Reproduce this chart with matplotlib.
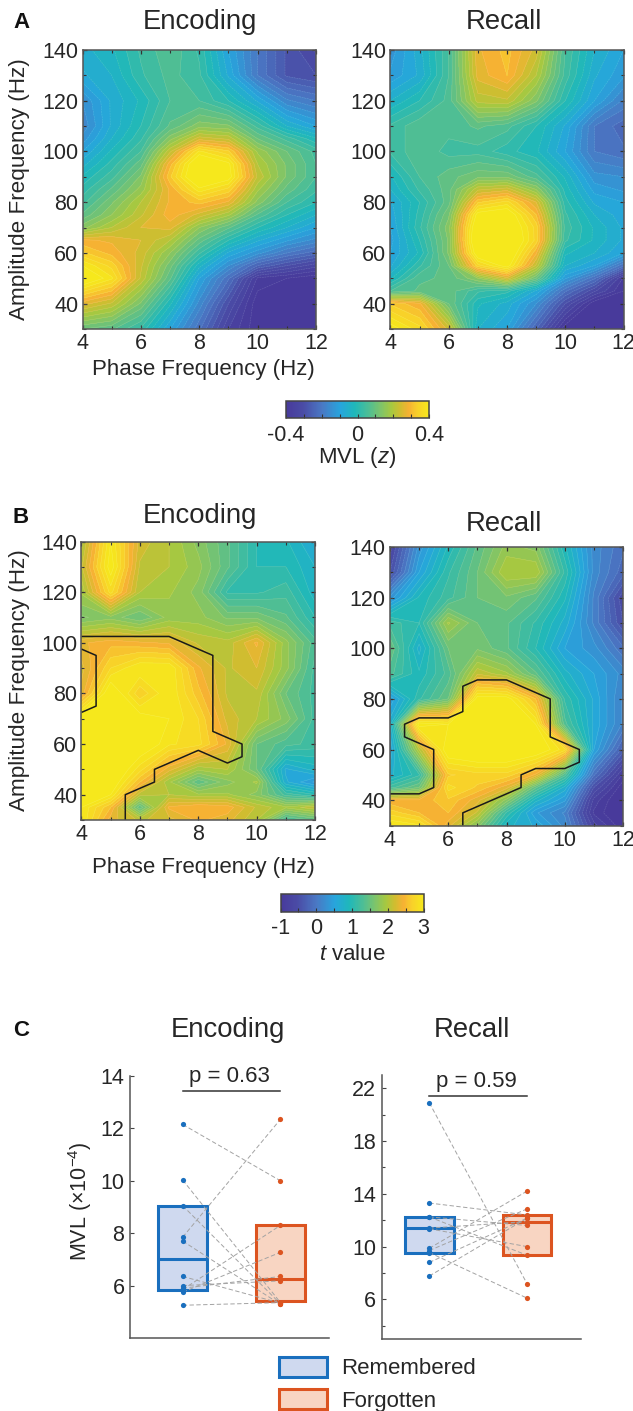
import numpy as np
import matplotlib
matplotlib.use("Agg")
import matplotlib.pyplot as plt
from matplotlib.colors import LinearSegmentedColormap, Normalize
from matplotlib.cm import ScalarMappable
from matplotlib.patches import Patch
from matplotlib.ticker import MultipleLocator

plt.rcParams['font.family'] = ['Liberation Sans', 'DejaVu Sans']
plt.rcParams['mathtext.fontset'] = 'custom'
plt.rcParams['mathtext.rm'] = 'Liberation Sans'
plt.rcParams['mathtext.it'] = 'Liberation Sans:italic'
plt.rcParams['mathtext.default'] = 'regular'

W, H = 633, 1411

phase_hz = [4, 5, 6, 7, 8, 9, 10, 11, 12]
amp_a_enc = [30, 40, 50, 55, 60, 65, 70, 75, 80, 85, 90, 95, 100, 105, 110, 120, 130, 140]
amp_a_rec = [30, 40, 45, 50, 55, 60, 65, 70, 75, 80, 85, 90, 100, 110, 120, 130, 140]
amp_b = [30, 35, 40, 45, 50, 60, 70, 80, 90, 100, 110, 120, 130, 140]

# MVL z x 100, rows from 30 Hz upward
mvl_encoding = [
    [10, 8, 2, -10, -22, -35, -42, -45, -45],
    [26, 22, 12, -2, -16, -30, -42, -45, -45],
    [45, 38, 22, 8, -10, -22, -38, -40, -42],
    [40, 34, 23, 11, -4, -15, -25, -30, -34],
    [33, 29, 24, 15, 3, -8, -14, -20, -24],
    [28, 27, 25, 20, 9, 0, -7, -12, -16],
    [14, 20, 25, 26, 15, 8, 0, -5, -10],
    [8, 15, 22, 29, 24, 18, 7, 0, -5],
    [4, 12, 20, 28, 31, 27, 14, 5, 0],
    [1, 8, 16, 28, 39, 34, 18, 9, 3],
    [-2, 4, 13, 32, 47, 42, 22, 12, 5],
    [-6, 1, 9, 29, 46, 41, 20, 12, 5],
    [-10, -2, 5, 22, 38, 33, 17, 10, 4],
    [-14, -5, 2, 14, 24, 22, 10, 4, -2],
    [-17, -7, 0, 8, 14, 13, 4, -5, -10],
    [-15, -7, -2, 5, 5, 0, -8, -17, -20],
    [-8, -5, 2, 6, 3, -8, -20, -28, -30],
    [-6, -3, 3, 7, 2, -10, -20, -28, -33],
]
mvl_recall = [
    [42, 36, 24, -5, -10, -25, -42, -45, -45],
    [32, 28, 10, -2, -6, -15, -30, -42, -45],
    [5, 8, 9, 3, 1, -8, -22, -32, -40],
    [-3, 7, 8, 15, 24, 10, -12, -22, -38],
    [-8, 2, 10, 34, 42, 22, -5, -10, -22],
    [-10, -2, 13, 44, 46, 28, -2, -5, -10],
    [-11, 0, 13, 48, 48, 34, 3, -3, -8],
    [-10, 2, 14, 46, 46, 34, 4, -3, -8],
    [-9, 1, 12, 42, 44, 30, 3, -5, -9],
    [-8, 0, 9, 32, 36, 25, 1, -8, -10],
    [-5, 3, 9, 22, 24, 15, -1, -11, -13],
    [-3, 5, 9, 12, 12, 6, -3, -14, -15],
    [3, 7, 4, 4, 1, -2, -10, -20, -22],
    [3, 7, 6, 8, 6, 0, -8, -20, -24],
    [-5, 0, 6, 21, 22, 13, 0, -10, -18],
    [-12, -7, 5, 26, 30, 20, 4, -7, -12],
    [-14, -6, 5, 27, 31, 24, 5, -5, -10],
]
# t values, rows from 30 Hz upward
t_encoding = [
    [3.0, 2.3, 2.1, 2.2, 2.4, 2.3, 2.0, 1.2, 1.4],
    [3.0, 2.5, 1.4, 2.4, 2.5, 2.45, 2.1, 1.9, 2.1],
    [3.2, 3.0, 2.05, 2.0, 1.9, 1.9, 1.7, 1.2, 1.0],
    [3.2, 3.2, 2.5, 1.9, 1.4, 1.7, 1.9, 0.65, 0.35],
    [3.3, 3.3, 2.8, 2.3, 1.9, 2.0, 1.5, 0.6, 0.8],
    [3.2, 3.3, 3.2, 2.9, 2.8, 2.35, 1.5, 1.3, 1.2],
    [3.2, 3.3, 3.1, 3.0, 2.75, 2.2, 2.0, 1.7, 1.2],
    [2.3, 3.2, 2.65, 3.0, 2.55, 2.1, 2.1, 1.5, 1.2],
    [2.2, 2.75, 3.0, 3.0, 2.4, 2.1, 2.25, 1.8, 1.2],
    [2.35, 2.45, 2.4, 2.35, 2.1, 2.05, 2.4, 1.8, 1.3],
    [1.6, 1.7, 1.5, 1.8, 1.8, 1.6, 1.6, 1.4, 1.0],
    [1.9, 2.8, 2.0, 1.9, 1.7, 1.1, 1.1, 1.2, 0.8],
    [2.1, 3.1, 2.1, 2.0, 1.8, 1.4, 1.0, 1.0, 0.75],
    [1.95, 3.0, 2.2, 2.0, 1.7, 1.4, 1.0, 0.9, 0.6],
]
t_recall = [
    [3.0, 2.9, 2.3, 1.7, 0.8, 0.6, 0.2, -0.7, -1.1],
    [2.7, 2.5, 2.5, 2.1, 1.1, 0.4, 0.1, -0.9, -1.2],
    [2.4, 2.4, 2.6, 2.3, 1.7, 0.8, 0.4, -0.8, -1.2],
    [1.2, 1.5, 2.8, 2.6, 2.3, 1.4, 0.7, -0.5, -1.1],
    [0.7, 1.1, 2.6, 2.7, 2.7, 2.35, 1.3, -0.1, -0.9],
    [0.5, 2.0, 3.2, 3.3, 3.3, 3.2, 2.8, 0.5, -0.3],
    [0.7, 3.1, 3.0, 3.3, 3.3, 3.0, 1.3, 0.6, 0.1],
    [0.4, 1.1, 1.5, 3.1, 3.1, 2.5, 1.1, 0.6, 0.1],
    [1.3, 0.9, 1.3, 2.1, 1.9, 1.4, 0.8, 0.5, 0.2],
    [1.5, 0.7, 1.5, 1.6, 1.4, 1.0, 0.5, 0.3, -0.1],
    [1.2, 1.0, 1.9, 1.5, 1.4, 1.1, 0.7, 0.1, -0.5],
    [0.3, 0.9, 1.2, 1.5, 1.6, 1.4, 0.9, 0.1, -0.6],
    [-0.5, 0.5, 1.1, 1.5, 2.0, 2.0, 1.1, 0.2, -0.2],
    [-0.7, 0.3, 0.9, 1.4, 1.8, 1.7, 0.9, 0.2, -0.1],
]

# significant amplitude ranges (Hz) per phase frequency
cluster_amp_hz = list(range(30, 145, 5))
cluster_encoding = {4: [(30, 70), (100, 100)], 5: [(30, 100)], 6: [(45, 100)],
                    7: [(55, 100)], 8: [(60, 95)], 9: [(55, 60)]}
cluster_recall = {4: [(30, 40)], 5: [(30, 40), (65, 70)], 6: [(30, 70)],
                  7: [(40, 85)], 8: [(45, 85)], 9: [(55, 80)], 10: [(55, 60)]}

# panel C
enc_remembered = [12.15, 10.03, 9.05, 7.85, 7.7, 6.35, 6.0, 5.9, 5.85, 5.75, 5.25]
enc_forgotten = [10.0, 5.35, 5.30, 12.35, 5.28, 5.33, 6.18, 6.35, 8.3, 7.27, 5.35]
rec_remembered = [20.9, 13.3, 12.25, 12.25, 11.4, 11.35, 9.87, 9.7, 9.55, 8.8, 7.77]
rec_forgotten = [7.2, 12.4, 11.6, 9.35, 11.9, 10.0, 14.2, 12.85, 6.1, 12.15, 12.15]
enc_boxes = [(5.85, 7.03, 9.05), (5.4, 6.27, 8.3)]
rec_boxes = [(9.55, 11.4, 12.25), (9.35, 11.85, 12.4)]

BLUE = '#1a6fbe'
ORANGE = '#dc5420'
BLUE_F = '#cfd9ef'
ORANGE_F = '#f8d5c2'
TXT = '#262626'

cmap = LinearSegmentedColormap.from_list('pal', [
    (0.00, '#483a9b'), (0.12, '#4a4ca6'), (0.25, '#4a78c4'), (0.38, '#27a5dd'),
    (0.48, '#1fb8ba'), (0.58, '#4fbe94'), (0.66, '#7cc46c'), (0.74, '#a8c83f'),
    (0.80, '#d0bd30'), (0.86, '#f6b133'), (0.92, '#f8d02a'), (1.00, '#f6e81c')])


def px_axes(fig, x0, y0, x1, y1):
    return fig.add_axes([x0 / W, 1 - y1 / H, (x1 - x0) / W, (y1 - y0) / H])


def heat(fig, box, amp, z, vmin, vmax, title, title_x, title_y, cluster=None,
         xlabel=False, ylabel=False):
    ax = px_axes(fig, *box)
    z = np.array(z, float)
    levels = np.linspace(vmin, vmax, 33)
    ax.contourf(phase_hz, amp, z, levels=levels, cmap=cmap, extend='both')
    ax.contour(phase_hz, amp, z, levels=levels, colors='white', linewidths=0.35, alpha=0.2)
    if cluster:
        mask = np.zeros((len(cluster_amp_hz), len(phase_hz)))
        for j, f in enumerate(phase_hz):
            for lo, hi in cluster.get(f, []):
                for i, a in enumerate(cluster_amp_hz):
                    if lo <= a <= hi:
                        mask[i, j] = 1
        ax.contour(phase_hz, cluster_amp_hz, mask, levels=[0.5], colors='#1a1a1a', linewidths=1.1)
    ax.set_xlim(4, 12)
    ax.set_ylim(30, 140)
    ax.set_xticks([4, 6, 8, 10, 12])
    ax.set_yticks(range(40, 141, 20))
    ax.xaxis.set_minor_locator(MultipleLocator(1))
    ax.yaxis.set_minor_locator(MultipleLocator(10))
    ax.tick_params(which='major', direction='in', length=3, width=0.9, top=True, right=True,
                   color='#333333', labelsize=15.5, labelcolor=TXT, pad=3)
    ax.tick_params(which='minor', direction='in', length=2, width=0.8, top=True, right=True,
                   color='#333333')
    for s in ax.spines.values():
        s.set_color('#555555')
        s.set_linewidth(1.1)
    fig.text(title_x / W, 1 - title_y / H, title, ha='center', va='center',
             fontsize=19.8, color=TXT)
    if xlabel:
        fig.text(203.5 / W, 1 - xlabel / H, 'Phase Frequency (Hz)', ha='center', va='center',
                 fontsize=16, color=TXT)
    if ylabel:
        fig.text(20 / W, 1 - ylabel / H, 'Amplitude Frequency (Hz)', rotation=90,
                 ha='center', va='center', fontsize=16.2, color=TXT)
    return ax


def cbar(fig, box, vmin, vmax, ticks, labels, minor, label, label_y):
    cax = px_axes(fig, *box)
    cb = fig.colorbar(ScalarMappable(Normalize(vmin, vmax), cmap), cax=cax, orientation='horizontal')
    cb.set_ticks(ticks, labels=labels)
    cax.xaxis.set_minor_locator(MultipleLocator(minor))
    cax.tick_params(which='major', direction='in', length=3, width=0.8, color='#333333',
                    labelsize=15.5, labelcolor=TXT, pad=5)
    cax.tick_params(which='minor', direction='in', length=3, width=0.8, color='#333333')
    cb.outline.set_edgecolor('#444444')
    cb.outline.set_linewidth(1.1)
    fig.text((box[0] + box[2]) / 2 / W, 1 - label_y / H, label, ha='center', va='center',
             fontsize=16, color=TXT)


def pairs(fig, box, xlim, ylim, rem, forg, boxes, yticks, minor, pval, pval_y, title, title_x):
    ax = px_axes(fig, *box)
    ax.patch.set_alpha(0)
    for a, b in zip(rem, forg):
        ax.plot([1, 2], [a, b], ls=(0, (4.5, 2.5)), color='#a3a3a3', lw=0.7, zorder=4)
    for k, ((q1, med, q3), ec, fc) in enumerate(zip(boxes, [BLUE, ORANGE], [BLUE_F, ORANGE_F])):
        ax.bar(k + 1, q3 - q1, bottom=q1, width=0.5, facecolor=fc, edgecolor=ec, linewidth=2.2, zorder=2)
        ax.plot([k + 0.75, k + 1.25], [med, med], color=ec, lw=2.2, zorder=3, solid_capstyle='butt')
    ax.scatter([1] * len(rem), rem, s=14, color=BLUE, zorder=5, linewidths=0)
    ax.scatter([2] * len(forg), forg, s=14, color=ORANGE, zorder=5, linewidths=0)
    ax.plot([1, 2], [pval_y, pval_y], color='#333333', lw=1.1)
    ax.annotate(pval, (1.48, pval_y), xytext=(0, 3), textcoords='offset points',
                ha='center', va='bottom', fontsize=16, color=TXT)
    ax.set_xlim(*xlim)
    ax.set_ylim(*ylim)
    ax.set_xticks([])
    ax.set_yticks(yticks)
    if minor:
        ax.yaxis.set_minor_locator(MultipleLocator(minor))
    ax.tick_params(which='major', direction='in', length=3, width=0.8, color='#444444',
                   labelsize=15.5, labelcolor=TXT, pad=4)
    ax.tick_params(which='minor', direction='in', length=2, width=0.8, color='#444444')
    ax.spines[['top', 'right']].set_visible(False)
    ax.spines[['left', 'bottom']].set_color('#555555')
    ax.spines[['left', 'bottom']].set_linewidth(1.1)
    fig.text(title_x / W, 1 - 1030 / H, title, ha='center', va='center', fontsize=19.8, color=TXT)
    return ax


fig = plt.figure(figsize=(W / 100, H / 100), dpi=100, facecolor='white')

mvl_e = np.array(mvl_encoding) / 100
mvl_r = np.array(mvl_recall) / 100
heat(fig, (82.5, 50, 316, 329), amp_a_enc, mvl_e, -0.4, 0.4, 'Encoding', 200, 22, xlabel=370, ylabel=189)
heat(fig, (390.5, 50, 623.5, 329), amp_a_rec, mvl_r, -0.4, 0.4, 'Recall', 504, 22)
cbar(fig, (286, 401, 429, 418), -0.4, 0.4, [-0.4, 0, 0.4], ['-0.4', '0', '0.4'], 0.1,
     'MVL ($\\mathit{z}$)', 458)

heat(fig, (81.5, 541.5, 315, 820), amp_b, t_encoding, -1, 3, 'Encoding', 200, 516, cluster=cluster_encoding,
     xlabel=867, ylabel=680)
heat(fig, (390, 547, 623, 825.5), amp_b, t_recall, -1, 3, 'Recall', 504, 524, cluster=cluster_recall)
cbar(fig, (280.5, 894, 423.5, 911.5), -1, 3, [-1, 0, 1, 2, 3], ['-1', '0', '1', '2', '3'], 0.5,
     '$\\mathit{t}$ value', 954)

pairs(fig, (130, 1076, 329, 1338), (0.461, 2.496), (4, 14), enc_remembered, enc_forgotten, enc_boxes,
      [6, 8, 10, 12, 14], None, 'p = 0.63', 13.44, 'Encoding', 228)
pairs(fig, (381.6, 1075, 581, 1339), (0.512, 2.553), (3, 23), rec_remembered, rec_forgotten, rec_boxes,
      [6, 10, 14, 18, 22], 2, 'p = 0.59', 21.4, 'Recall', 472)

fig.text(80 / W, 1 - 1201 / H, 'MVL (×10$^{-4}$)', rotation=90, ha='center', va='center',
         fontsize=15.5, color=TXT)

for lab, y in [('A', 22), ('B', 517), ('C', 1030)]:
    fig.text(13 / W, 1 - y / H, lab, fontsize=16, fontweight='bold', va='center', ha='left', color='#111111')

fig.legend(handles=[Patch(facecolor=BLUE_F, edgecolor=BLUE, linewidth=2.2, label='Remembered'),
                    Patch(facecolor=ORANGE_F, edgecolor=ORANGE, linewidth=2.2, label='Forgotten')],
           loc='upper left', bbox_to_anchor=(279 / W, 1 - 1357 / H), frameon=False, fontsize=16,
           handlelength=2.16, handleheight=0.99, labelspacing=0.45, handletextpad=0.63,
           borderpad=0, borderaxespad=0, labelcolor=TXT)

fig.savefig('out.png', dpi=100)
